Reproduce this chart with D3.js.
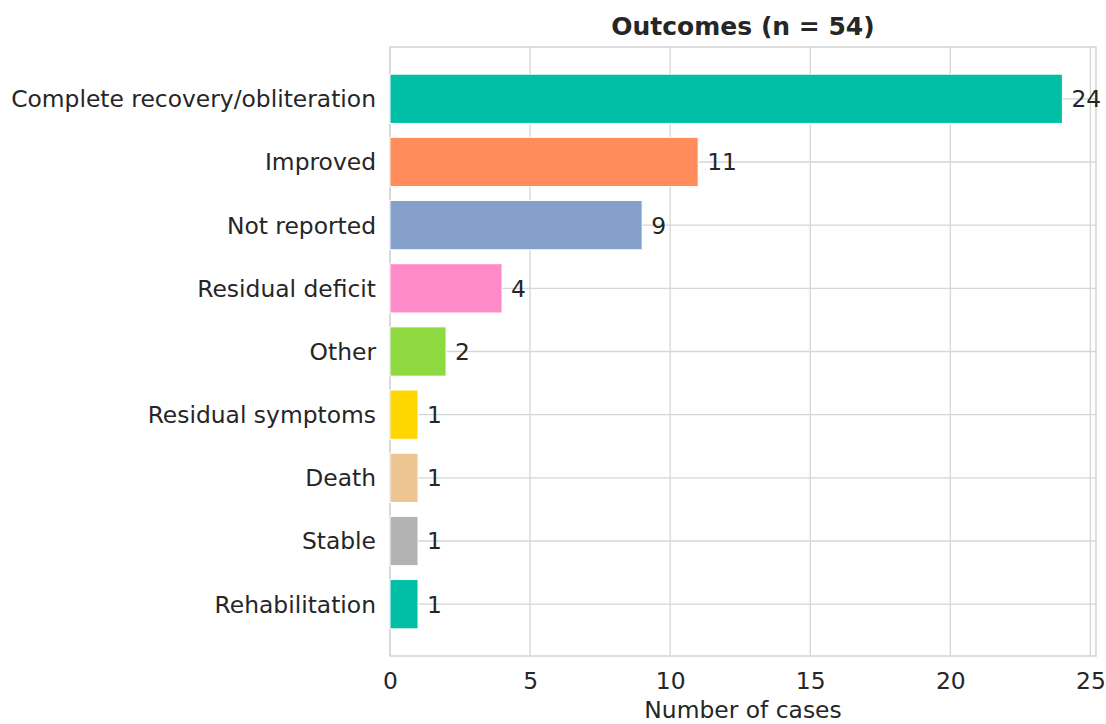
<!DOCTYPE html>
<html lang="en">
<head>
    <meta charset="UTF-8">
    <title>Outcomes</title>
    <script src="https://d3js.org/d3.v7.min.js"></script>
    <style>
        body { margin: 0; background-color: white; }
        text { font-family: "DejaVu Sans", sans-serif; fill: #262626; }
        .grid line { stroke: #d6d6d6; stroke-width: 1.3; }
        .tick-label { font-size: 23.4px; }
    </style>
</head>
<body>
<script>
    const categories = ["Complete recovery/obliteration", "Improved", "Not reported", "Residual deficit",
        "Other", "Residual symptoms", "Death", "Stable", "Rehabilitation"];
    const counts = [24, 11, 9, 4, 2, 1, 1, 1, 1];
    const barColors = ["#00bfa5", "#ff8c5a", "#84a0cb", "#ff8ac8", "#8ed840", "#ffd500", "#ecc590", "#b3b3b3", "#00bfa5"];
    const xTicks = [0, 5, 10, 15, 20, 25];

    const width = 1106, height = 724;
    const margin = {top: 47, right: 10, bottom: 68, left: 390};

    const svg = d3.select("body").append("svg")
        .attr("width", width)
        .attr("height", height);

    const x = d3.scaleLinear()
        .domain([0, 25.2])
        .range([margin.left, width - margin.right]);

    const y = d3.scaleBand()
        .domain(categories)
        .range([margin.top, height - margin.bottom])
        .paddingInner(0.22)
        .paddingOuter(0.43);

    // grid lines
    const grid = svg.append("g").attr("class", "grid");
    grid.selectAll(".vline")
        .data(xTicks)
        .enter().append("line")
        .attr("x1", d => x(d)).attr("x2", d => x(d))
        .attr("y1", margin.top).attr("y2", height - margin.bottom);
    grid.selectAll(".hline")
        .data(categories)
        .enter().append("line")
        .attr("x1", margin.left).attr("x2", width - margin.right)
        .attr("y1", d => y(d) + y.bandwidth() / 2)
        .attr("y2", d => y(d) + y.bandwidth() / 2);

    // frame
    svg.append("rect")
        .attr("x", margin.left)
        .attr("y", margin.top)
        .attr("width", width - margin.right - margin.left)
        .attr("height", height - margin.bottom - margin.top)
        .attr("fill", "none")
        .attr("stroke", "#d6d6d6")
        .attr("stroke-width", 1.6);

    // bars
    svg.selectAll(".bar")
        .data(categories)
        .enter().append("rect")
        .attr("class", "bar")
        .attr("x", x(0))
        .attr("y", d => y(d))
        .attr("width", (d, i) => x(counts[i]) - x(0))
        .attr("height", y.bandwidth())
        .attr("fill", (d, i) => barColors[i])
        .attr("stroke", "white")
        .attr("stroke-width", 1);

    // value labels
    svg.selectAll(".value")
        .data(categories)
        .enter().append("text")
        .attr("class", "tick-label")
        .attr("x", (d, i) => x(counts[i]) + 9)
        .attr("y", d => y(d) + y.bandwidth() / 2)
        .attr("dy", "0.36em")
        .text((d, i) => counts[i]);

    // y axis labels
    svg.selectAll(".cat")
        .data(categories)
        .enter().append("text")
        .attr("class", "tick-label")
        .attr("x", margin.left - 14)
        .attr("y", d => y(d) + y.bandwidth() / 2)
        .attr("dy", "0.36em")
        .attr("text-anchor", "end")
        .text(d => d);

    // x axis
    const xAxis = svg.append("g")
        .attr("transform", `translate(0,${height - margin.bottom})`)
        .call(d3.axisBottom(x).tickValues(xTicks).tickSize(0).tickPadding(16));
    xAxis.select(".domain").remove();
    xAxis.selectAll("text")
        .attr("class", "tick-label")
        .style("font-family", "DejaVu Sans")
        .style("font-size", "23.4px")
        .attr("fill", "#262626");

    svg.append("text")
        .attr("x", (margin.left + width - margin.right) / 2)
        .attr("y", 718)
        .attr("text-anchor", "middle")
        .style("font-size", "23.4px")
        .text("Number of cases");

    svg.append("text")
        .attr("x", (margin.left + width - margin.right) / 2)
        .attr("y", 35)
        .attr("text-anchor", "middle")
        .style("font-size", "25px")
        .style("font-weight", "bold")
        .text("Outcomes (n = 54)");
</script>
</body>
</html>
